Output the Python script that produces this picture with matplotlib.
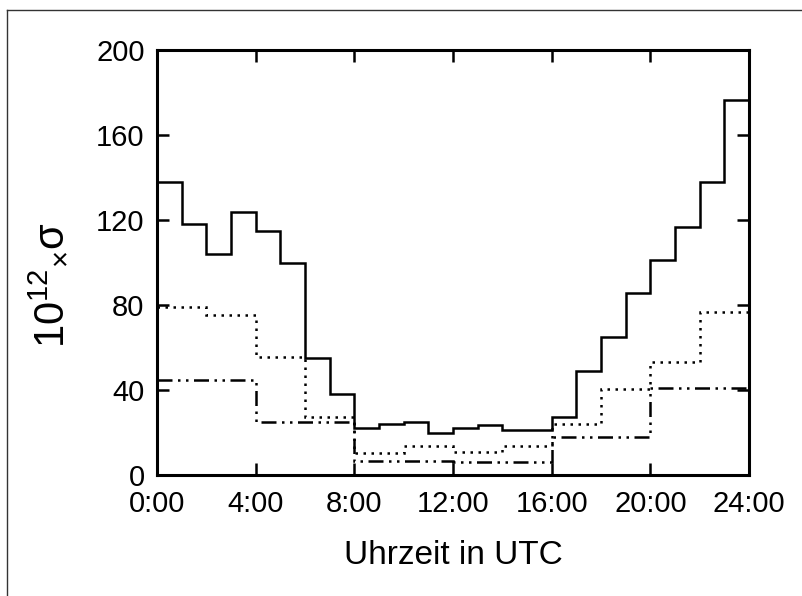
import numpy as np
import matplotlib
matplotlib.use('Agg')
import matplotlib.pyplot as plt
from matplotlib.lines import Line2D

plt.rcParams['font.family'] = ['Liberation Sans', 'DejaVu Sans']
plt.rcParams['mathtext.fontset'] = 'custom'
plt.rcParams['mathtext.rm'] = 'Liberation Sans'
plt.rcParams['mathtext.it'] = 'Liberation Sans:italic'

# hourly bins (solid)
hourly_edges = np.arange(0, 25, 1)
hourly_vals = [138, 118, 104, 124, 115, 100, 55, 38, 22, 24, 25, 20,
               22, 23.5, 21, 21, 27.5, 49, 65, 85.5, 101, 116.5, 138, 176.5]

# 2-hour bins (dotted)
two_h_edges = np.arange(0, 25, 2)
two_h_vals = [79, 75.5, 55.5, 27.5, 10.5, 13.5, 11, 13.5, 24, 40.5, 53, 76.5]

# 4-hour bins (dash-dot-dot)
four_h_edges = np.arange(0, 25, 4)
four_h_vals = [44.5, 25, 6.5, 6, 17.7, 41]

xticks = [0, 4, 8, 12, 16, 20, 24]
xticklabels = ['0:00', '4:00', '8:00', '12:00', '16:00', '20:00', '24:00']
yticks = [0, 40, 80, 120, 160, 200]

W, H = 802, 596
fig = plt.figure(figsize=(W / 100, H / 100), dpi=100)
ax = fig.add_axes([157 / W, 1 - 475 / H, 592 / W, 425 / H])

ax.stairs(hourly_vals, hourly_edges, baseline=None, color='black', lw=1.8)
ax.stairs(two_h_vals, two_h_edges, baseline=None, color='black', lw=1.8,
          linestyle=(0, (1, 2.2)))
ax.stairs(four_h_vals, four_h_edges, baseline=None, color='black', lw=1.8,
          linestyle=(0, (6, 2.2, 1, 2.2, 1, 2.2)))

ax.set_xlim(0, 24)
ax.set_ylim(0, 200)
ax.set_xticks(xticks)
ax.set_xticklabels(xticklabels)
ax.set_yticks(yticks)
for s in ax.spines.values():
    s.set_linewidth(2.2)
ax.tick_params(direction='in', length=8.5, width=1.8, top=True, right=True,
               labelsize=21)
ax.tick_params(axis='x', pad=11)
ax.tick_params(axis='y', pad=9)

ax.set_xlabel('Uhrzeit in UTC', fontsize=24, labelpad=16)
fig.text(50 / W, 1 - 285 / H, r'$\mathregular{10^{12}{}_{\times}\sigma}$',
         rotation=90, fontsize=30, ha='center', va='center')

# frame around the figure (left and top edges only visible)
fig.add_artist(Line2D([7 / W, 1], [1 - 10 / H, 1 - 10 / H],
                      transform=fig.transFigure, color='#333333', lw=1))
fig.add_artist(Line2D([7 / W, 7 / W], [0, 1 - 10 / H],
                      transform=fig.transFigure, color='#333333', lw=1))

fig.savefig('out.png', dpi=100)
